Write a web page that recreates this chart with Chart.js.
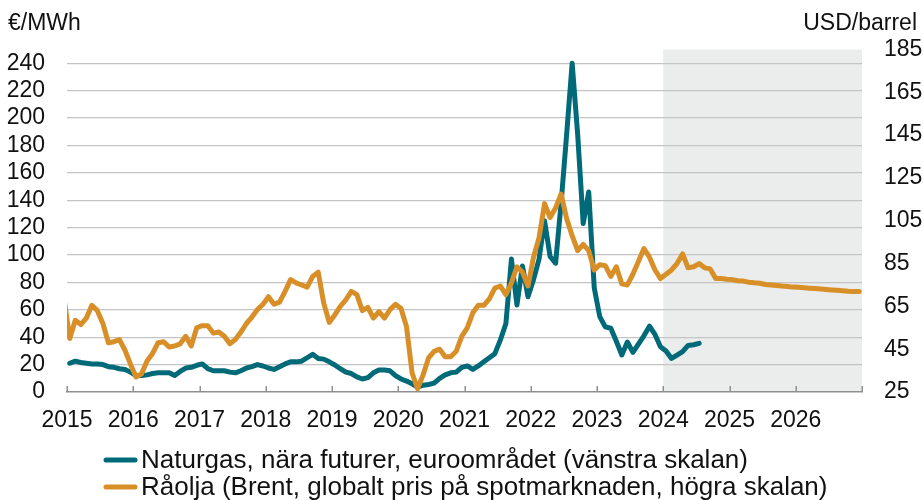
<!DOCTYPE html>
<html><head><meta charset="utf-8">
<script src="https://cdn.jsdelivr.net/npm/chart.js@4.4.1/dist/chart.umd.min.js"></script>
<style>
html,body{margin:0;padding:0;background:#fff;}
canvas{display:block;}
</style></head><body>
<canvas id="c" width="923" height="500"></canvas>
<script>
// Monthly series. Gas starts Jan 2015, oil starts Dec 2014.
const gasStart = [2015, 1];
const gasValues = [
  21, 22.5, 21.5, 21, 20.5, 20.5, 20, 18.5, 18, 17, 16.5, 14.5,
  12, 12, 12.5, 13.5, 14, 14, 14, 12, 15, 17.5, 18, 19.5,
  20.5, 17, 15.5, 15.5, 15.5, 14.5, 14, 15.5, 17.5, 18.5, 20, 19,
  17.5, 16.5, 18.5, 20.5, 22, 22, 22.5, 25, 27.5, 24.5, 24, 22,
  19.7, 17, 14.5, 13.5, 11, 9.5, 10.5, 14, 16, 16, 15.5, 12,
  9.5, 8, 6, 3.5, 5, 5.5, 6.5, 10, 12.5, 14, 14.5, 18,
  19, 16.5, 19, 22, 25, 28, 38, 50, 97, 63.5, 92, 69.5,
  82, 97, 125, 99, 94, 138, 188, 240, 188, 123, 146, 76,
  55, 47.5, 46.5, 37, 27, 36.5, 29, 35, 41, 48, 42, 33,
  30, 24.5, 27, 29.5, 34, 34.5, 35.5
];
const oilStart = [2014, 12];
const oilValues = [
  68,
  50, 58.5, 56.5, 59.5, 65.5, 63, 57, 48, 48.5, 49.5, 44.5, 38,
  32, 33.5, 39.5, 43, 48, 48.5, 46, 46.5, 47.5, 51, 46.5, 55,
  56, 56, 52.5, 53, 51, 47.5, 49.5, 53, 57, 60, 63.5, 66,
  69.5, 66, 67, 72, 77.5, 76, 75, 74, 79, 81, 66.5, 57.5,
  61, 65, 68, 72, 70.5, 63, 64.5, 59.5, 62.5, 59.5, 63.5, 66,
  64, 55.5, 34, 26.5, 33, 41, 44, 45, 41.5, 41.5, 44, 51,
  55, 62, 65.5, 65.5, 68.5, 73.5, 74.5, 70.5, 76, 83.5, 81, 74.5,
  88, 97, 113, 106.5, 111, 117.5, 106, 98, 91, 94, 91, 82,
  84.5, 84, 79, 83.5, 75.5, 75, 80, 86, 92, 88, 82, 78,
  80, 82, 85, 89.5, 83, 83.5, 85, 83, 82.5, 78, 78, 77.7,
  77.5, 77, 76.8, 76.3, 76, 75.8, 75.2, 75, 74.8, 74.5, 74.3, 74,
  73.9, 73.7, 73.5, 73.3, 73.1, 72.9, 72.7, 72.5, 72.3, 72.1, 72, 72
];
const yearTicks = [2015, 2016, 2017, 2018, 2019, 2020, 2021, 2022, 2023, 2024, 2025, 2026, 2027];
const leftTicks = [0, 20, 40, 60, 80, 100, 120, 140, 160, 180, 200, 220, 240];
const rightTicks = [25, 45, 65, 85, 105, 125, 145, 165, 185];
const forecastRange = [2024, 2027];
const leftTitle = '€/MWh';
const rightTitle = 'USD/barrel';
const seriesNames = ['Naturgas, nära futurer, euroområdet (vänstra skalan)', 'Råolja (Brent, globalt pris på spotmarknaden, högra skalan)'];

function toPoints(start, values) {
  return values.map((v, i) => ({ x: start[0] + (start[1] - 1 + i + 0.5) / 12, y: v }));
}

const FAMILY = '"Liberation Sans", Arial, sans-serif';
const FONT = { family: FAMILY, size: 23 };
const TEAL = '#006a79', ORANGE = '#d88f27', AXIS = '#8f8f8f', TEXT = '#111';

const decor = {
  id: 'decor',
  beforeDraw(chart) {
    const { ctx, chartArea: a, scales: { x } } = chart;
    const x0 = x.getPixelForValue(forecastRange[0]), x1 = x.getPixelForValue(forecastRange[1]);
    ctx.save();
    ctx.fillStyle = '#ebecec';
    ctx.fillRect(x0, a.top, x1 - x0, a.bottom - a.top);
    ctx.restore();
  },
  afterDraw(chart) {
    const { ctx, chartArea: a, scales: { x } } = chart;
    ctx.save();
    ctx.strokeStyle = AXIS;
    ctx.lineWidth = 1.5;
    yearTicks.forEach(v => {
      const px = Math.round(x.getPixelForValue(v)) + 0.25;
      ctx.beginPath();
      ctx.moveTo(px, a.bottom);
      ctx.lineTo(px, a.bottom - 6);
      ctx.stroke();
    });
    ctx.fillStyle = TEXT;
    ctx.font = '23px ' + FAMILY;
    ctx.textBaseline = 'middle';
    ctx.textAlign = 'left';
    ctx.fillText(leftTitle, 8, 24);
    ctx.textAlign = 'right';
    ctx.fillText(rightTitle, 917, 24);

    // legend
    const items = [
      { text: seriesNames[0], color: TEAL, y: 460 },
      { text: seriesNames[1], color: ORANGE, y: 487 }
    ];
    ctx.font = '26px ' + FAMILY;
    ctx.textAlign = 'left';
    ctx.lineCap = 'round';
    items.forEach(it => {
      ctx.strokeStyle = it.color;
      ctx.lineWidth = 5;
      ctx.beginPath();
      ctx.moveTo(106, it.y);
      ctx.lineTo(135, it.y);
      ctx.stroke();
      ctx.fillStyle = TEXT;
      ctx.fillText(it.text, 141, it.y + 1);
    });
    ctx.restore();
  }
};

new Chart(document.getElementById('c'), {
  type: 'line',
  data: {
    datasets: [
      { label: seriesNames[1], data: toPoints(oilStart, oilValues), yAxisID: 'y2', borderColor: ORANGE, borderWidth: 5,
        pointRadius: 0, tension: 0, borderJoinStyle: 'round', borderCapStyle: 'round', order: 1, clip: 0 },
      { label: seriesNames[0], data: toPoints(gasStart, gasValues), yAxisID: 'y', borderColor: TEAL, borderWidth: 5,
        pointRadius: 0, tension: 0, borderJoinStyle: 'round', borderCapStyle: 'round', order: 2, clip: 0 }
    ]
  },
  options: {
    responsive: false,
    animation: false,
    layout: { padding: { top: 49.5, bottom: 0, left: 0, right: 0 } },
    plugins: { legend: { display: false }, tooltip: { enabled: false } },
    scales: {
      x: {
        type: 'linear', min: 2015, max: 2027,
        afterBuildTicks: s => { s.ticks = yearTicks.map(v => ({ value: v })); },
        afterFit: s => { s.height = 108; },
        ticks: { autoSkip: false, maxRotation: 0, padding: 15, font: FONT, color: TEXT,
          callback: v => (v < 2027 ? String(v) : '') },
        grid: { display: false, drawTicks: false },
        border: { display: true, color: AXIS, width: 1.5 }
      },
      y: {
        type: 'linear', position: 'left', min: 0, max: 250,
        afterBuildTicks: s => { s.ticks = leftTicks.map(v => ({ value: v })); },
        afterFit: s => { s.width = 67; },
        ticks: { autoSkip: false, padding: 22, font: FONT, color: TEXT },
        grid: { drawTicks: false, lineWidth: 1.2, color: c => (c.tick && c.tick.value === 0 ? 'rgba(0,0,0,0)' : '#c4c4c4') },
        border: { display: false }
      },
      y2: {
        type: 'linear', position: 'right', min: 25, max: 185,
        afterBuildTicks: s => { s.ticks = rightTicks.map(v => ({ value: v })); },
        afterFit: s => { s.width = 61; },
        ticks: { autoSkip: false, padding: 22, font: FONT, color: TEXT },
        grid: { display: false, drawTicks: false },
        border: { display: false }
      }
    }
  },
  plugins: [decor]
});
</script>
</body></html>
